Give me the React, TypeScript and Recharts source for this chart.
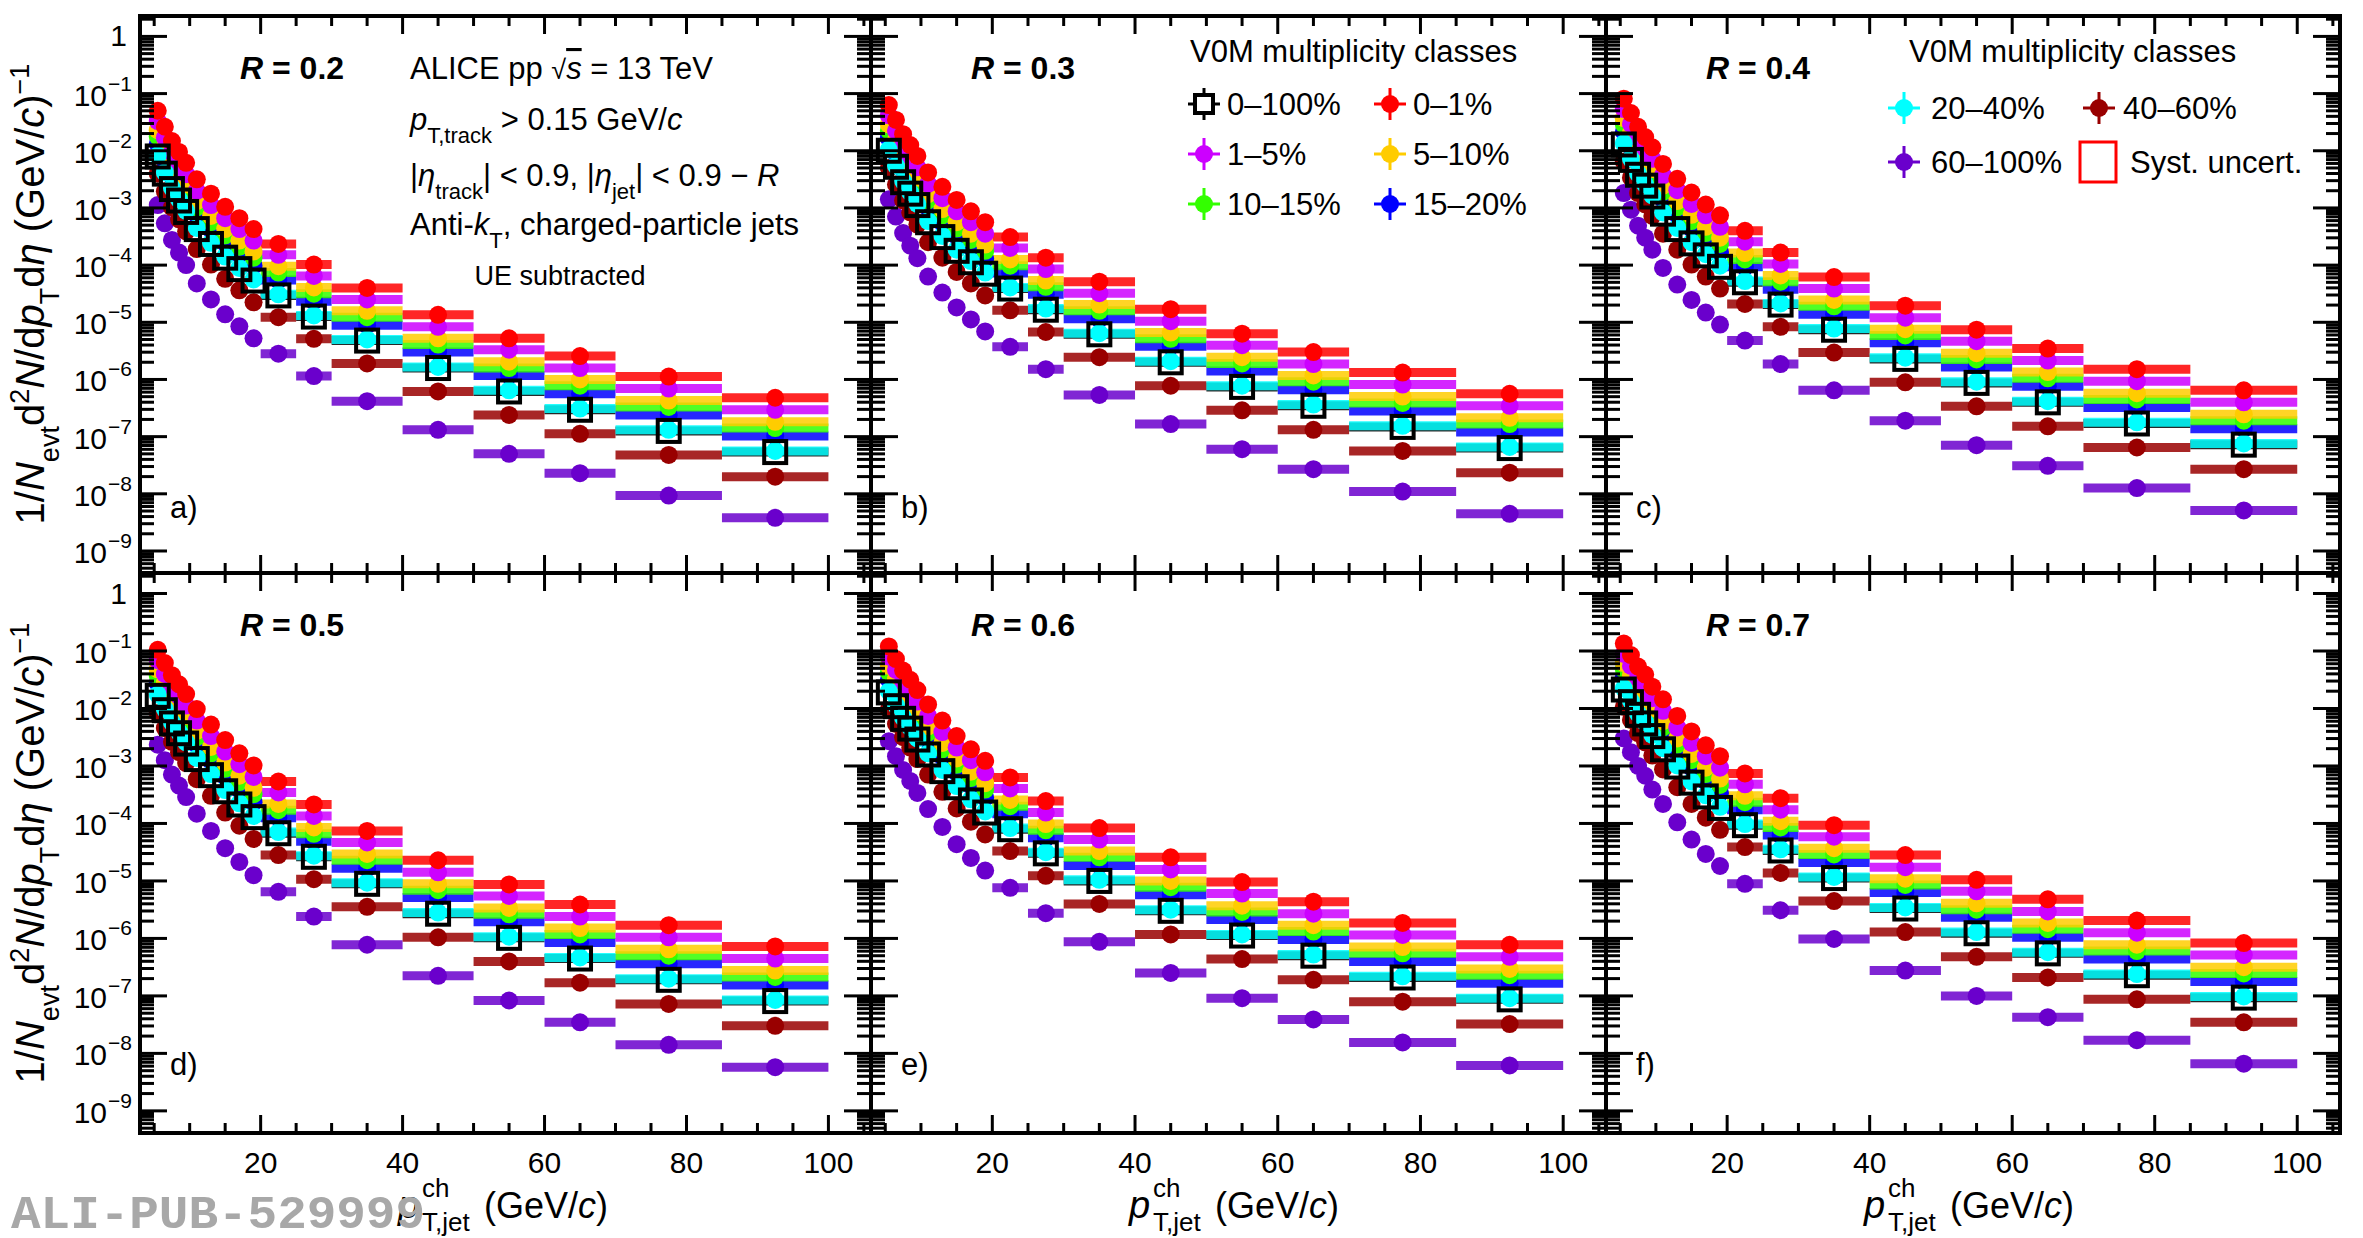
import React from 'react';
import { ComposedChart, Scatter, XAxis, YAxis, ErrorBar } from 'recharts';

// bin centres and half widths (GeV/c)
const PT = [5.5, 6.5, 7.5, 8.5, 9.5, 11, 13, 15, 17, 19, 22.5, 27.5, 35, 45, 55, 65, 77.5, 92.5];
const HALF = [0.5, 0.5, 0.5, 0.5, 0.5, 1, 1, 1, 1, 1, 2.5, 2.5, 5, 5, 5, 5, 7.5, 7.5];

// log10 of the 0–100% spectra for each R
const MB_R02 = [-2.10, -2.40, -2.67, -2.87, -3.07, -3.37, -3.63, -3.87, -4.07, -4.27, -4.53, -4.90, -5.32, -5.80, -6.21, -6.53, -6.90, -7.27];
const MB_R03 = [-2.00, -2.28, -2.55, -2.75, -2.95, -3.25, -3.51, -3.75, -3.95, -4.15, -4.41, -4.78, -5.21, -5.70, -6.13, -6.46, -6.83, -7.20];
const MB_R04 = [-1.89, -2.16, -2.42, -2.61, -2.80, -3.10, -3.37, -3.62, -3.83, -4.03, -4.30, -4.69, -5.13, -5.64, -6.06, -6.40, -6.77, -7.14];
const MB_R05 = [-1.78, -2.03, -2.26, -2.43, -2.61, -2.88, -3.16, -3.44, -3.67, -3.89, -4.17, -4.58, -5.05, -5.57, -5.99, -6.35, -6.72, -7.09];
const MB_R06 = [-1.72, -1.96, -2.18, -2.35, -2.54, -2.80, -3.09, -3.37, -3.60, -3.81, -4.10, -4.52, -5.00, -5.52, -5.95, -6.30, -6.68, -7.06];
const MB_R07 = [-1.67, -1.89, -2.11, -2.26, -2.48, -2.71, -3.01, -3.29, -3.53, -3.73, -4.03, -4.47, -4.95, -5.48, -5.91, -6.26, -6.64, -7.03];

// log10 of each class relative to 0–100%
const REL_0_1 = [0.80, 0.82, 0.84, 0.85, 0.86, 0.87, 0.88, 0.89, 0.89, 0.90, 0.90, 0.91, 0.92, 0.93, 0.93, 0.94, 0.95, 0.95];
const REL_1_5 = [0.62, 0.63, 0.64, 0.65, 0.66, 0.67, 0.68, 0.69, 0.70, 0.70, 0.71, 0.71, 0.72, 0.72, 0.73, 0.73, 0.74, 0.74];
const REL_5_10 = [0.46, 0.47, 0.47, 0.48, 0.48, 0.49, 0.49, 0.50, 0.50, 0.51, 0.51, 0.51, 0.52, 0.52, 0.52, 0.53, 0.53, 0.53];
const REL_10_15 = [0.35, 0.36, 0.36, 0.37, 0.37, 0.38, 0.38, 0.39, 0.39, 0.40, 0.40, 0.40, 0.41, 0.41, 0.41, 0.42, 0.42, 0.42];
const REL_15_20 = [0.22, 0.23, 0.23, 0.24, 0.24, 0.25, 0.25, 0.26, 0.26, 0.26, 0.27, 0.27, 0.27, 0.28, 0.28, 0.28, 0.28, 0.28];
const REL_20_40 = [0.02, 0.02, 0.02, 0.02, 0.02, 0.02, 0.02, 0.02, 0.02, 0.02, 0.02, 0.02, 0.02, 0.02, 0.02, 0.02, 0.02, 0.02];
const REL_40_60 = [-0.30, -0.31, -0.32, -0.33, -0.34, -0.35, -0.36, -0.37, -0.37, -0.38, -0.38, -0.39, -0.40, -0.41, -0.41, -0.42, -0.42, -0.43];
const REL_60_100 = [-0.85, -0.87, -0.89, -0.91, -0.93, -0.95, -0.97, -0.99, -1.00, -1.01, -1.02, -1.04, -1.06, -1.08, -1.09, -1.11, -1.13, -1.15];

const PANEL_MB = [MB_R02, MB_R03, MB_R04, MB_R05, MB_R06, MB_R07];
const PANEL_R = ['0.2', '0.3', '0.4', '0.5', '0.6', '0.7'];
const PANEL_LETTER = ['a)', 'b)', 'c)', 'd)', 'e)', 'f)'];

const CLASSES = [
  { name: '60–100%', color: '#6a00cc', rel: REL_60_100 },
  { name: '40–60%', color: '#990000', rel: REL_40_60 },
  { name: '15–20%', color: '#0000ff', rel: REL_15_20 },
  { name: '10–15%', color: '#33ff00', rel: REL_10_15 },
  { name: '5–10%', color: '#ffcc00', rel: REL_5_10 },
  { name: '1–5%', color: '#cc00ff', rel: REL_1_5 },
  { name: '0–1%', color: '#ff0000', rel: REL_0_1 },
  { name: '20–40%', color: '#00ffff', rel: REL_20_40 },
];

const X_TICKS = [5, 10, 15, 20, 25, 30, 35, 40, 45, 50, 55, 60, 65, 70, 75, 80, 85, 90, 95, 100, 105];
const X_LABELS = [20, 40, 60, 80, 100];
const Y_LO = Math.pow(10, -9.385);
const Y_HI = Math.pow(10, 0.357);
const Y_TICKS: number[] = [];
for (let k = -10; k <= 0; k++) for (let m = 1; m <= 9; m++) {
  const v = m * Math.pow(10, k);
  if (v >= Y_LO && v <= Y_HI) Y_TICKS.push(v);
}

const COL_X = [140, 871, 1606];
const COL_W = [731, 735, 734];
const ROW_Y = [16, 573];
const ROW_H = [557, 560];
const LM = 140;
const FONT = '"Liberation Sans", Arial, Helvetica, sans-serif';

function Panel({ idx }: { idx: number }) {
  const row = idx < 3 ? 0 : 1;
  const col = idx % 3;
  const pw = COL_W[col];
  const ph = ROW_H[row];
  const mb = PANEL_MB[idx];
  const mk = (rel: number[] | null) => PT.map((x, i) => ({ x, ex: HALF[i], y: Math.pow(10, mb[i] + (rel ? rel[i] : 0)) }));
  const mbData = mk(null);
  const showX = row === 1;
  const showY = col === 0;

  const xTick = (p: any) => {
    const v = p.payload.value;
    const major = v % 20 === 0;
    const len = major ? 18 : 10;
    const x = p.x;
    return (
      <g>
        <line x1={x} x2={x} y1={ph} y2={ph - len} stroke="#000" strokeWidth={3} />
        <line x1={x} x2={x} y1={0} y2={len} stroke="#000" strokeWidth={3} />
        {showX && X_LABELS.includes(v) ? (
          <text x={x} y={ph + 40} textAnchor="middle" fontSize={30} fontFamily={FONT} fill="#000">{v}</text>
        ) : null}
      </g>
    );
  };
  const yTick = (p: any) => {
    const v = p.payload.value;
    const lg = Math.log10(v);
    const k = Math.round(lg);
    const major = Math.abs(lg - k) < 1e-6;
    const len = major ? 27 : 14;
    const y = p.y;
    return (
      <g>
        <line x1={LM} x2={LM + len} y1={y} y2={y} stroke="#000" strokeWidth={3} />
        <line x1={LM + pw} x2={LM + pw - len} y1={y} y2={y} stroke="#000" strokeWidth={3} />
        {showY && major ? (
          k === 0 ? (
            <text x={127} y={y + 10} textAnchor="end" fontSize={30} fontFamily={FONT}>1</text>
          ) : (
            <g>
              <text x={107} y={y + 12} textAnchor="end" fontSize={30} fontFamily={FONT}>10</text>
              <text x={108} y={y - 3} textAnchor="start" fontSize={21} fontFamily={FONT}>{'−' + (-k)}</text>
            </g>
          )
        ) : null}
      </g>
    );
  };

  return (
    <div style={{ position: 'absolute', left: COL_X[col] - LM, top: ROW_Y[row] }}>
      <ComposedChart width={LM + pw} height={ph + 110} margin={{ top: 0, right: 0, bottom: 0, left: 0 }}>
        <XAxis dataKey="x" type="number" domain={[3, 106]} allowDataOverflow ticks={X_TICKS} interval={0}
          height={110} axisLine={false} tickLine={false} tick={xTick} />
        <YAxis type="number" scale="log" domain={[Y_LO, Y_HI]} allowDataOverflow ticks={Y_TICKS} interval={0}
          width={LM} axisLine={false} tickLine={false} tick={yTick} />
        <Scatter data={mbData} dataKey="y" isAnimationActive={false} shape={() => <g />}>
          <ErrorBar dataKey="ex" direction="x" width={0} stroke="#111" strokeOpacity={0.9} strokeWidth={9} isAnimationActive={false} />
        </Scatter>
        {CLASSES.map((c) => (
          <Scatter key={c.name} data={mk(c.rel)} dataKey="y" isAnimationActive={false}
            shape={(s: any) => <circle cx={s.cx} cy={s.cy} r={9} fill={c.color} />}>
            <ErrorBar dataKey="ex" direction="x" width={0} stroke={c.color} strokeOpacity={0.85} strokeWidth={9} isAnimationActive={false} />
          </Scatter>
        ))}
        <Scatter data={mbData} dataKey="y" isAnimationActive={false}
          shape={(s: any) => <rect x={s.cx - 11} y={s.cy - 11} width={22} height={22} fill="none" stroke="#000" strokeWidth={4} />} />
      </ComposedChart>
    </div>
  );
}

function LegendMarker({ x, y, color, square }: { x: number; y: number; color: string; square?: boolean }) {
  return (
    <g>
      <line x1={x - 16} x2={x + 16} y1={y} y2={y} stroke={color} strokeWidth={3} />
      <line x1={x} x2={x} y1={y - 16} y2={y + 16} stroke={color} strokeWidth={3} />
      {square ? (
        <rect x={x - 9} y={y - 9} width={18} height={18} fill="#fff" stroke="#000" strokeWidth={4} />
      ) : (
        <circle cx={x} cy={y} r={9} fill={color} />
      )}
    </g>
  );
}

function YTitle({ cy }: { cy: number }) {
  return (
    <text transform={`translate(44 ${cy}) rotate(-90)`} textAnchor="middle" fontSize={40} fontFamily={FONT} fill="#000">
      <tspan>1/</tspan><tspan fontStyle="italic">N</tspan>
      <tspan fontSize={27} baselineShift="sub">evt</tspan>
      <tspan>d</tspan><tspan fontSize={27} baselineShift="super">2</tspan>
      <tspan fontStyle="italic">N</tspan><tspan>/d</tspan><tspan fontStyle="italic">p</tspan>
      <tspan fontSize={27} baselineShift="sub">T</tspan>
      <tspan>d</tspan><tspan fontStyle="italic">η</tspan>
      <tspan> (GeV/</tspan><tspan fontStyle="italic">c</tspan><tspan>)</tspan>
      <tspan fontSize={27} baselineShift="super">−1</tspan>
    </text>
  );
}

function XTitle({ x }: { x: number }) {
  return (
    <g fontFamily={FONT} fill="#000">
      <text x={x} y={1218} fontSize={38} fontStyle="italic">p</text>
      <text x={x + 24} y={1197} fontSize={26}>ch</text>
      <text x={x + 24} y={1231} fontSize={26}>T,jet</text>
      <text x={x + 86} y={1218} fontSize={36}>(GeV/<tspan fontStyle="italic">c</tspan>)</text>
    </g>
  );
}

export default function App() {
  const fs = 31;
  return (
    <div style={{ position: 'absolute', left: 0, top: 0, width: 2363, height: 1238, background: '#fff', overflow: 'hidden' }}>
      {[0, 1, 2, 3, 4, 5].map((i) => <Panel key={i} idx={i} />)}
      {[0, 1, 2, 3, 4, 5].map((i) => {
        const row = i < 3 ? 0 : 1;
        const col = i % 3;
        return (
          <div key={'f' + i} style={{
            position: 'absolute', left: COL_X[col] - 2, top: ROW_Y[row] - 2, width: COL_W[col] + 4, height: ROW_H[row] + 4,
            border: '4px solid #000', boxSizing: 'border-box', pointerEvents: 'none',
          }} />
        );
      })}
      <svg width={2363} height={1238} style={{ position: 'absolute', left: 0, top: 0, pointerEvents: 'none' }}>
        <YTitle cy={294} />
        <YTitle cy={853} />
        {COL_X.map((x, c) => <XTitle key={c} x={x + 258} />)}
        {[0, 1, 2, 3, 4, 5].map((i) => {
          const row = i < 3 ? 0 : 1;
          const col = i % 3;
          const x0 = COL_X[col];
          const y0 = ROW_Y[row];
          return (
            <g key={'t' + i} fontFamily={FONT}>
              <text x={x0 + 100} y={y0 + 63} fontSize={32} fontWeight="bold">
                <tspan fontStyle="italic">R</tspan> = {PANEL_R[i]}
              </text>
              <text x={x0 + 30} y={y0 + 502} fontSize={fs}>{PANEL_LETTER[i]}</text>
            </g>
          );
        })}
        <g fontFamily={FONT} fontSize={fs} fill="#000">
          <text x={410} y={79}>ALICE pp <tspan fontSize={27}>√</tspan><tspan fontStyle="italic" textDecoration="overline">s</tspan> = 13 TeV</text>
          <text x={410} y={130}><tspan fontStyle="italic">p</tspan><tspan fontSize={22} baselineShift="sub">T,track</tspan> &gt; 0.15 GeV/<tspan fontStyle="italic">c</tspan></text>
          <text x={410} y={186}>|<tspan fontStyle="italic">η</tspan><tspan fontSize={22} baselineShift="sub">track</tspan>| &lt; 0.9, |<tspan fontStyle="italic">η</tspan><tspan fontSize={22} baselineShift="sub">jet</tspan>| &lt; 0.9 − <tspan fontStyle="italic">R</tspan></text>
          <text x={410} y={235}>Anti-<tspan fontStyle="italic">k</tspan><tspan fontSize={22} baselineShift="sub">T</tspan>, charged-particle jets</text>
          <text x={560} y={285} fontSize={27} textAnchor="middle">UE subtracted</text>

          <text x={1190} y={62}>V0M multiplicity classes</text>
          <LegendMarker x={1204} y={104} color="#000" square />
          <text x={1227} y={115}>0–100%</text>
          <LegendMarker x={1390} y={104} color="#ff0000" />
          <text x={1413} y={115}>0–1%</text>
          <LegendMarker x={1204} y={154} color="#cc00ff" />
          <text x={1227} y={165}>1–5%</text>
          <LegendMarker x={1390} y={154} color="#ffcc00" />
          <text x={1413} y={165}>5–10%</text>
          <LegendMarker x={1204} y={204} color="#33ff00" />
          <text x={1227} y={215}>10–15%</text>
          <LegendMarker x={1390} y={204} color="#0000ff" />
          <text x={1413} y={215}>15–20%</text>

          <text x={1909} y={62}>V0M multiplicity classes</text>
          <LegendMarker x={1904} y={108} color="#00ffff" />
          <text x={1931} y={119}>20–40%</text>
          <LegendMarker x={2099} y={108} color="#990000" />
          <text x={2123} y={119}>40–60%</text>
          <LegendMarker x={1904} y={162} color="#6a00cc" />
          <text x={1931} y={173}>60–100%</text>
          <rect x={2080} y={142} width={36} height={40} fill="none" stroke="#ff0000" strokeWidth={3} />
          <text x={2130} y={173}>Syst. uncert.</text>
        </g>
        <text x={11} y={1228} fontFamily='"Liberation Mono", "DejaVu Sans Mono", monospace' fontWeight="bold" fontSize={47}
          fill="#a8a8a8" textLength={414} lengthAdjust="spacingAndGlyphs">ALI-PUB-529999</text>
      </svg>
    </div>
  );
}
